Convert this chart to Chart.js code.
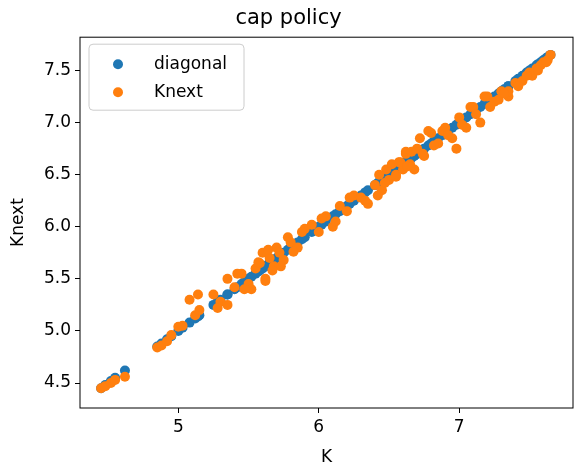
<!DOCTYPE html>
<html><head><meta charset="utf-8">
<script src="https://cdn.jsdelivr.net/npm/chart.js@4.4.0/dist/chart.umd.min.js"></script>
<style>body{margin:0;background:#fff}#wrap{width:584px;height:472px}</style>
</head><body><div id="wrap"><canvas id="c"></canvas></div>
<script>
const kValues = [4.45,4.48,4.52,4.55,4.62,4.85,4.88,4.92,4.95,5.0,5.03,5.08,5.12,5.15,5.25,5.3,5.35,5.4,5.45,5.5,5.55,5.58,5.6,5.62,5.65,5.68,5.7,5.72,5.75,5.78,5.8,5.85,5.9,5.95,6.0,6.05,6.1,6.15,6.2,6.25,6.3,6.35,6.4,6.45,6.48,6.5,6.52,6.55,6.58,6.6,6.62,6.65,6.7,6.72,6.75,6.8,6.85,6.9,6.95,7.0,7.05,7.1,7.15,7.2,7.25,7.3,7.35,7.4,7.45,7.5,7.55,7.6,7.63,7.65,
  5.35,5.42,5.52,5.64,5.73,6.55,6.62,6.68,6.78,6.98,7.08,7.28,7.35,7.52,7.58,5.14,5.62,6.42,
  5.28,5.47,5.57,5.67,5.82,5.88,6.02,6.12,6.22,6.33,6.43,6.47,6.57,6.63,6.66,6.74,6.82,6.88,6.92,7.02,7.12,7.18,7.22,7.32,7.42,7.48,7.56,7.62];
const knextValues = [4.45,4.47,4.50,4.53,4.56,4.84,4.86,4.90,4.96,5.04,5.05,5.30,5.15,5.20,5.35,5.28,5.50,5.42,5.55,5.45,5.60,5.65,5.75,5.50,5.70,5.62,5.80,5.75,5.68,5.90,5.85,5.80,5.98,6.02,5.95,6.10,6.00,6.20,6.15,6.30,6.28,6.22,6.40,6.35,6.55,6.45,6.60,6.50,6.62,6.55,6.70,6.60,6.75,6.85,6.68,6.90,6.80,6.95,6.85,7.05,6.95,7.15,7.00,7.25,7.20,7.30,7.25,7.38,7.40,7.48,7.52,7.58,7.60,7.65,
  5.25,5.55,5.40,5.78,5.62,6.48,6.72,6.55,6.92,6.75,7.15,7.22,7.30,7.45,7.55,5.35,5.48,6.30,
  5.22,5.40,5.66,5.58,5.76,5.95,6.08,6.05,6.28,6.25,6.50,6.42,6.62,6.58,6.72,6.70,6.78,6.92,6.88,6.98,7.08,7.25,7.15,7.28,7.35,7.45,7.50,7.58];
const xTicks = [5,6,7];
const yTicks = [4.5,5.0,5.5,6.0,6.5,7.0,7.5];

const blue = '#1f77b4', orange = '#ff7f0e';
const font = {family: 'DejaVu Sans', size: 17};

const framePlugin = {
  id: 'frame',
  afterDraw(chart) {
    const {ctx, chartArea: a} = chart;
    ctx.save();
    ctx.strokeStyle = '#000'; ctx.lineWidth = 1;
    ctx.strokeRect(a.left, a.top, a.right - a.left, a.bottom - a.top);
    // legend
    const x = a.left + 9, y = a.top + 7;
    ctx.fillStyle = 'rgba(255,255,255,0.8)';
    ctx.strokeStyle = '#ccc';
    ctx.beginPath(); ctx.roundRect(x, y, 155, 66, 4); ctx.fill(); ctx.stroke();
    ctx.font = '17px DejaVu Sans'; ctx.textBaseline = 'middle';
    [[blue, 'diagonal', 20], [orange, 'Knext', 48]].forEach(([c, t, dy]) => {
      ctx.fillStyle = c; ctx.beginPath(); ctx.arc(x + 29, y + dy, 5, 0, Math.PI * 2); ctx.fill();
      ctx.fillStyle = '#000'; ctx.fillText(t, x + 65, y + dy);
    });
    ctx.restore();
  }
};

const axisGrid = {display: true, drawOnChartArea: false, drawTicks: true, tickLength: 5, color: '#000'};

new Chart(document.getElementById('c'), {
  type: 'scatter',
  data: {datasets: [
    {label: 'diagonal', order: 1, data: kValues.map(k => ({x: k, y: k})), backgroundColor: blue, borderWidth: 0, pointRadius: 5},
    {label: 'Knext', order: 0, data: kValues.map((k, i) => ({x: k, y: knextValues[i]})), backgroundColor: orange, borderWidth: 0, pointRadius: 5}
  ]},
  plugins: [framePlugin],
  options: {
    responsive: true, maintainAspectRatio: false, animation: false,
    layout: {padding: {right: 11, left: 4}},
    plugins: {
      legend: {display: false}, tooltip: {enabled: false},
      title: {display: true, text: 'cap policy', color: '#000', font: {family: 'DejaVu Sans', size: 21, weight: 'normal'}, padding: {top: 6, bottom: 6}}
    },
    scales: {
      x: {
        min: 4.3, max: 7.81,
        afterBuildTicks: s => { s.ticks = xTicks.map(v => ({value: v})); },
        afterFit: s => { s.height = 64; },
        grid: axisGrid, border: {display: false},
        ticks: {color: '#000', font, padding: 4, callback: v => v.toString()},
        title: {display: true, text: 'K', color: '#000', font, padding: {top: 2}}
      },
      y: {
        min: 4.26, max: 7.82,
        afterBuildTicks: s => { s.ticks = yTicks.map(v => ({value: v})); },
        afterFit: s => { s.width = 76; },
        grid: axisGrid, border: {display: false},
        ticks: {color: '#000', font, padding: 4, callback: v => v.toFixed(1)},
        title: {display: true, text: 'Knext', color: '#000', font, padding: {bottom: 2}}
      }
    }
  }
});
</script></body></html>
